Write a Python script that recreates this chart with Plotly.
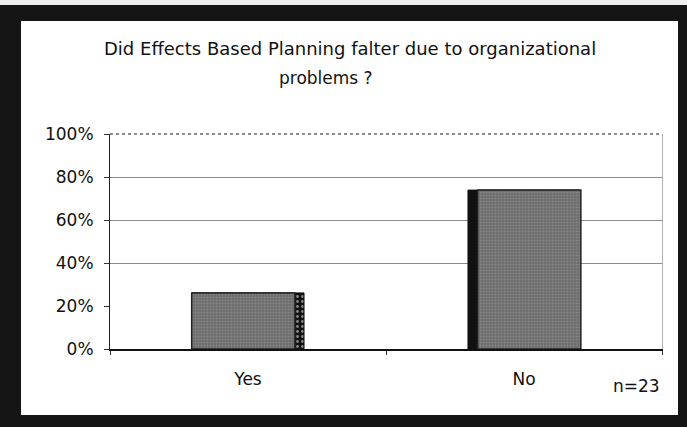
import plotly.graph_objects as go

categories = ["Yes", "No"]
values = [26.1, 73.9]          # percent of respondents (n=23)
y_ticks = [0, 20, 40, 60, 80, 100]
y_tick_labels = ["0%", "20%", "40%", "60%", "80%", "100%"]
title_line1 = "Did Effects Based Planning falter due to organizational"
title_line2 = "problems ?"
note = "n=23"

FONT = "DejaVu Sans"
W, H = 687, 427
L, R, T, B = 110, 662, 134, 349  # plot area in px

def px(x):
    return (x - L) / (R - L)

def py(y):
    return (B - y) / (B - T)

fig = go.Figure()

# dark side strip of each bar (full bar footprint)
fig.add_trace(go.Bar(
    x=categories, y=values, width=0.406,
    marker=dict(color="#111111",
                line=dict(color="#111111", width=1),
                pattern=dict(shape=[".", ""], fgcolor="#ffffff", bgcolor="#111111",
                             size=5, solidity=0.25)),
    hoverinfo="skip", showlegend=False,
))
# patterned grey face of each bar (on overlaid axis so it draws on top)
fig.add_trace(go.Bar(
    x=categories, y=values, width=0.374, offset=[-0.204, -0.168],
    yaxis="y2",
    marker=dict(color="#777777",
                line=dict(color="#222222", width=1.5),
                pattern=dict(shape=".", fgcolor="#a0a0a0", bgcolor="#6c6c6c",
                             size=3, solidity=0.35)),
    showlegend=False,
))

fig.update_layout(
    width=W, height=H,
    margin=dict(l=L, r=W - R, t=T, b=H - B, pad=0),
    paper_bgcolor="#151515",
    plot_bgcolor="#ffffff",
    barmode="overlay",
    font=dict(family=FONT, color="#111111", size=17),
    xaxis=dict(
        type="category", range=[-0.5, 1.5],
        showline=True, linecolor="#111111", linewidth=1.5,
        ticks="outside", tickson="boundaries", ticklen=4, tickcolor="#333333",
        showgrid=False, ticklabelstandoff=14,
        tickfont=dict(family=FONT, size=17, color="#111111"),
    ),
    yaxis=dict(
        range=[0, 100], tickvals=y_ticks, ticktext=y_tick_labels,
        showline=True, linecolor="#222222", linewidth=1,
        ticks="outside", ticklen=5, tickcolor="#333333",
        showgrid=False, zeroline=False, ticklabelstandoff=7,
        tickfont=dict(family=FONT, size=17, color="#111111"),
        minor=dict(tickvals=[40, 60, 80], showgrid=True, gridcolor="#8c8c8c",
                   gridwidth=1, ticks=""),
    ),
    yaxis2=dict(
        overlaying="y", side="right", range=[0, 100],
        showgrid=False, showticklabels=False, ticks="", zeroline=False,
        showline=True, linecolor="#b0b0b0", linewidth=1,
    ),
    shapes=[
        dict(type="rect", xref="paper", yref="paper", layer="below",
             x0=px(21), x1=px(678), y0=py(415), y1=py(21),
             fillcolor="#ffffff", line=dict(width=0)),
        dict(type="rect", xref="paper", yref="paper", layer="below",
             x0=px(0), x1=px(W), y0=py(5), y1=py(0),
             fillcolor="#eeeeee", line=dict(width=0)),
        # dotted top border of the plot area
        dict(type="line", xref="paper", yref="paper", layer="above",
             x0=0, x1=1, y0=1, y1=1,
             line=dict(color="#666666", width=1.5, dash="dot")),
    ],
    annotations=[
        dict(text=title_line1, xref="paper", yref="paper", x=px(350), y=py(48),
             xanchor="center", yanchor="middle", showarrow=False,
             font=dict(family=FONT, size=18, color="#111111")),
        dict(text=title_line2, xref="paper", yref="paper", x=px(326), y=py(78),
             xanchor="center", yanchor="middle", showarrow=False,
             font=dict(family=FONT, size=17, color="#111111")),
        dict(text=note, xref="paper", yref="paper", x=px(636), y=py(386),
             xanchor="center", yanchor="middle", showarrow=False,
             font=dict(family=FONT, size=17, color="#111111")),
    ],
)

fig.write_html("out.html",
               config={"displayModeBar": False},
               post_script="document.body.style.margin='0';"
                           "document.body.style.overflow='hidden';")
